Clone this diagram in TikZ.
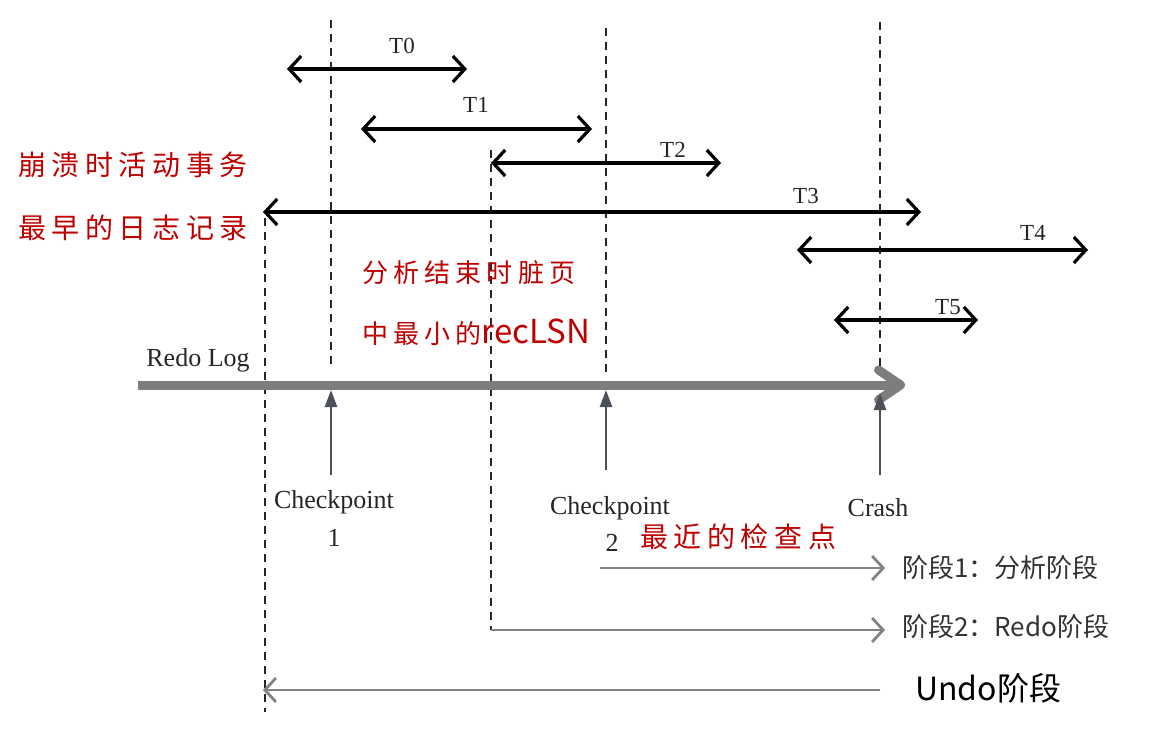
\documentclass[tikz,border=0pt]{standalone}
\usepackage{fontspec}
\setmainfont{Liberation Serif}
\newfontfamily\cjk{Noto Sans CJK SC}
\newfontfamily\cjksp[LetterSpace=20]{Noto Sans CJK SC}
\usetikzlibrary{arrows.meta}
\definecolor{redtxt}{RGB}{190,0,0}
\definecolor{loggray}{RGB}{125,125,125}
\definecolor{phasegray}{RGB}{130,130,130}
\definecolor{uparr}{RGB}{75,80,90}
\begin{document}
\begin{tikzpicture}[x=1pt,y=-1pt,
  dl/.style={draw=black!85, line width=1.8pt, dash pattern=on 8pt off 6pt},
  tarr/.style={line width=3.2pt, {Straight Barb[length=12pt,width=26pt]}-{Straight Barb[length=12pt,width=26pt]}},
  tlab/.style={font=\fontsize{23}{26}\selectfont, text=black!85, inner sep=0pt},
  lab/.style={font=\fontsize{26}{28}\selectfont, text=black!85, inner sep=0pt},
  redlab/.style={font=\cjksp\fontsize{28}{32}\selectfont, text=redtxt, inner sep=0pt, anchor=west},
  uparrow/.style={draw=uparr, line width=2.4pt, -{Triangle[length=17pt,width=12pt]}},
  phase/.style={draw=phasegray, line width=2.8pt, -{Straight Barb[length=11pt,width=24pt]}},
  phaselab/.style={font=\cjk\fontsize{26}{30}\selectfont, text=black!80, inner sep=0pt, anchor=west},
  redolog/.style={draw=loggray, line width=9pt, -{Straight Barb[length=22pt,width=30pt,line cap=round,line join=round]}}
]
\useasboundingbox (0,0) rectangle (1169,730);
\fill[white] (0,0) rectangle (1169,730);

% dashed guide lines
\coordinate (d1t) at (331,20);  \coordinate (d1b) at (331,366);
\coordinate (d2t) at (606,28);  \coordinate (d2b) at (606,376);
\coordinate (d3t) at (880,22);  \coordinate (d3b) at (880,366);
\coordinate (d4t) at (265,218); \coordinate (d4b) at (265,712);
\coordinate (d5t) at (491,150); \coordinate (d5b) at (491,630);
\draw[dl] (d1t) -- (d1b);
\draw[dl] (d2t) -- (d2b);
\draw[dl] (d3t) -- (d3b);
\draw[dl] (d4t) -- (d4b);
\draw[dl] (d5t) -- (d5b);

% transactions
\coordinate (t0a) at (287,69);  \coordinate (t0b) at (467,69);
\coordinate (t1a) at (361,129); \coordinate (t1b) at (592,129);
\coordinate (t2a) at (491,163); \coordinate (t2b) at (721,163);
\coordinate (t3a) at (263,212); \coordinate (t3b) at (921,212);
\coordinate (t4a) at (797,250); \coordinate (t4b) at (1088,250);
\coordinate (t5a) at (834,320); \coordinate (t5b) at (978,320);
\draw[tarr] (t0a) -- (t0b);
\draw[tarr] (t1a) -- (t1b);
\draw[tarr] (t2a) -- (t2b);
\draw[tarr] (t3a) -- (t3b);
\draw[tarr] (t4a) -- (t4b);
\draw[tarr] (t5a) -- (t5b);
\node[tlab] (lt0) at (402,46) {T0};
\node[tlab] (lt1) at (476,105) {T1};
\node[tlab] (lt2) at (673,150) {T2};
\node[tlab] (lt3) at (806,196) {T3};
\node[tlab] (lt4) at (1033,233) {T4};
\node[tlab] (lt5) at (948,307) {T5};

% redo log
\coordinate (rs) at (138,385); \coordinate (re) at (905,385);
\draw[redolog] (rs) -- (re);
\node[lab] (redo) at (198,360) {Redo Log};

% checkpoints and crash
\coordinate (c1b) at (331,475); \coordinate (c1t) at (331,390);
\coordinate (c2b) at (606,470); \coordinate (c2t) at (606,390);
\coordinate (crb) at (880,475); \coordinate (crt) at (880,393);
\draw[uparrow] (c1b) -- (c1t);
\draw[uparrow] (c2b) -- (c2t);
\draw[uparrow] (crb) -- (crt);
\node[lab] (cp1) at (334,502) {Checkpoint};
\node[lab] (cp1n) at (334,538) {1};
\node[lab] (cp2) at (610,508) {Checkpoint};
\node[lab] (cp2n) at (612,543) {2};
\node[lab] (crash) at (878,508) {Crash};

% red annotations
\node[redlab] (r1) at (18,165) {崩溃时活动事务};
\node[redlab] (r2) at (18,228) {最早的日志记录};
\node[redlab, font=\cjksp\fontsize{26}{30}\selectfont] (r3) at (362,273) {分析结束时脏页};
\node[redlab, font=\cjksp\fontsize{26}{30}\selectfont] (r4) at (362,332) {中最小的{\cjk\fontsize{33}{34}\selectfont recLSN}};
\node[redlab] (r5) at (640,537) {最近的检查点};

% phases
\coordinate (p1s) at (600,568); \coordinate (p1e) at (885,568);
\coordinate (p2e) at (885,630);
\coordinate (p3s) at (880,690); \coordinate (p3e) at (263,690);
\draw[phase] (p1s) -- (p1e);
\draw[phase] (d5b) -- (p2e);
\draw[phase] (p3s) -- (p3e);
\node[phaselab] (ph1) at (902,568) {阶段1：分析阶段};
\node[phaselab] (ph2) at (902,627) {阶段2：Redo阶段};
\node[phaselab, text=black, font=\cjk\fontsize{32}{34}\selectfont] (ph3) at (915,688) {Undo阶段};
\end{tikzpicture}
\end{document}
